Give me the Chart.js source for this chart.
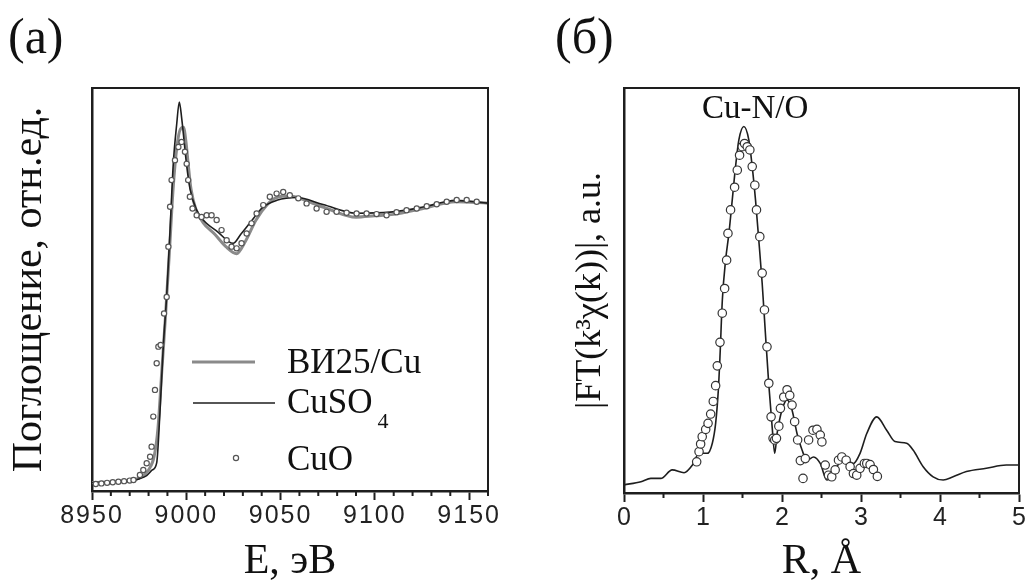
<!DOCTYPE html>
<html>
<head>
<meta charset="utf-8">
<script src="https://cdn.jsdelivr.net/npm/chart.js@4.4.0/dist/chart.umd.min.js"></script>
<style>
  html, body { margin: 0; padding: 0; background: #fff; }
  body { width: 1027px; height: 580px; position: relative; overflow: hidden; }
  .panel { position: absolute; top: 0; height: 580px; }
  #wrapA { left: 0; width: 510px; }
  #wrapB { left: 530px; width: 497px; }
  .tag { position: absolute; font-family: "Liberation Serif", "Times New Roman", serif; font-size: 50px; line-height: 1; color: #111; }
</style>
</head>
<body>
<div class="panel" id="wrapA"><canvas id="chartA"></canvas></div>
<div class="panel" id="wrapB"><canvas id="chartB"></canvas></div>
<div class="tag" style="left:8px; top:11px">(а)</div>
<div class="tag" style="left:555px; top:11px">(б)</div>
<script>
// (а) XANES, E in eV, normalized absorption
const vi25E = [8950, 8970, 8976, 8980, 8983, 8985, 8987, 8989, 8991, 8993,
  8995, 8997, 8998.5, 8999.8, 9001, 9002.5, 9005, 9009, 9015, 9021,
  9026.7, 9031, 9037, 9043, 9048, 9055, 9065, 9075, 9090, 9100,
  9110, 9125, 9143, 9160];
const vi25Mu = [0.005, 0.012, 0.025, 0.05, 0.1, 0.2, 0.4, 0.6, 0.82, 1.05,
  1.2, 1.265, 1.27, 1.22, 1.14, 1.05, 0.98, 0.93, 0.89, 0.845,
  0.82, 0.86, 0.94, 0.995, 1.02, 1.025, 1.005, 0.98, 0.95, 0.955,
  0.96, 0.98, 1.005, 1.0];

const cuso4E = [8950, 8960, 8970, 8975, 8979, 8982, 8984.3, 8986, 8987.8, 8989.6,
  8991.4, 8993.1, 8994.9, 8996.3, 8997.6, 8998.4, 9000.1, 9002, 9005.5, 9009,
  9016.8, 9024.8, 9029, 9033.8, 9040.7, 9048, 9058.5, 9072.5, 9090, 9108,
  9125.5, 9143, 9160];
const cuso4Mu = [0.005, 0.006, 0.01, 0.018, 0.03, 0.05, 0.075, 0.25, 0.49, 0.67,
  0.905, 1.14, 1.28, 1.36, 1.3, 1.25, 1.14, 1.05, 0.975, 0.94,
  0.897, 0.857, 0.89, 0.93, 0.986, 1.01, 1.02, 0.995, 0.964, 0.968,
  0.986, 1.01, 1.0];

const cuoE = [8952, 8955, 8958, 8961, 8964, 8967, 8970, 8972, 8975.4, 8977.2,
  8979, 8980.8, 8981.6, 8982.5, 8983.4, 8984.3, 8985.2, 8986.4, 8988.2, 8989.6,
  8990.5, 8991.4, 8992.2, 8994, 8995.8, 8997.5, 8999.3, 9000.2, 9001, 9001.9,
  9003.3, 9005.5, 9008.1, 9010.8, 9013.4, 9016.1, 9018.7, 9021.4, 9024, 9026.7,
  9029.3, 9032, 9034.6, 9037.3, 9040.8, 9044.3, 9047.9, 9051.4, 9054.9, 9059.4,
  9063.8, 9069.1, 9074.4, 9079.7, 9085, 9090.3, 9095.6, 9100.9, 9106.2, 9111.5,
  9116.8, 9122.2, 9127.5, 9132.8, 9138.1, 9143.4, 9148.7, 9154];
const cuoMu = [0.0, 0.002, 0.004, 0.006, 0.008, 0.01, 0.012, 0.014, 0.032, 0.05,
  0.074, 0.097, 0.133, 0.24, 0.335, 0.43, 0.489, 0.495, 0.607, 0.666,
  0.845, 0.987, 1.082, 1.153, 1.2, 1.218, 1.183, 1.14, 1.082, 1.023,
  0.981, 0.957, 0.951, 0.957, 0.957, 0.94, 0.904, 0.868, 0.845, 0.839,
  0.857, 0.892, 0.928, 0.963, 0.993, 1.023, 1.034, 1.04, 1.028, 1.017,
  0.999, 0.981, 0.969, 0.969, 0.966, 0.963, 0.963, 0.961, 0.957, 0.968,
  0.975, 0.981, 0.989, 0.996, 1.005, 1.011, 1.011, 1.005];

// (б) Fourier transform, R in Å
const ftR = [0, 0.214, 0.34, 0.466, 0.61, 0.76, 0.866, 0.95, 1.055, 1.118,
  1.16, 1.194, 1.215, 1.245, 1.286, 1.328, 1.37, 1.412, 1.454, 1.517,
  1.58, 1.623, 1.665, 1.706, 1.749, 1.79, 1.832, 1.875, 1.908, 1.938,
  2.0, 2.064, 2.127, 2.19, 2.254, 2.317, 2.4, 2.484, 2.568, 2.652,
  2.736, 2.82, 2.904, 2.988, 3.073, 3.199, 3.325, 3.43, 3.577, 3.66,
  3.787, 3.913, 4.04, 4.166, 4.334, 4.586, 4.839, 5.0];
const ftMag = [0.02, 0.028, 0.036, 0.036, 0.057, 0.05, 0.069, 0.098, 0.098, 0.123,
  0.172, 0.254, 0.337, 0.477, 0.575, 0.641, 0.723, 0.806, 0.872, 0.905,
  0.872, 0.806, 0.723, 0.625, 0.518, 0.394, 0.27, 0.164, 0.098, 0.147,
  0.205, 0.23, 0.205, 0.147, 0.106, 0.081, 0.089, 0.073, 0.032, 0.048,
  0.077, 0.081, 0.073, 0.098, 0.147, 0.188, 0.155, 0.127, 0.123, 0.106,
  0.065, 0.04, 0.032, 0.04, 0.053, 0.061, 0.069, 0.069];

const fitR = [0.92, 0.95, 0.97, 0.99, 1.034, 1.064, 1.097, 1.13, 1.16, 1.181,
  1.215, 1.244, 1.274, 1.299, 1.316, 1.349, 1.4, 1.434, 1.463, 1.497,
  1.526, 1.56, 1.593, 1.623, 1.656, 1.677, 1.719, 1.749, 1.778, 1.81,
  1.833, 1.862, 1.887, 1.908, 1.93, 1.96, 1.98, 2.022, 2.064, 2.098,
  2.127, 2.16, 2.198, 2.232, 2.266, 2.295, 2.337, 2.392, 2.442, 2.484,
  2.505, 2.547, 2.589, 2.63, 2.673, 2.715, 2.757, 2.812, 2.862, 2.904,
  2.946, 2.988, 3.043, 3.073, 3.115, 3.157, 3.207];
const fitMag = [0.077, 0.102, 0.121, 0.139, 0.157, 0.172, 0.195, 0.226, 0.265, 0.314,
  0.372, 0.444, 0.505, 0.575, 0.641, 0.699, 0.755, 0.797, 0.834, 0.855,
  0.863, 0.855, 0.847, 0.806, 0.76, 0.699, 0.633, 0.543, 0.452, 0.361,
  0.271, 0.188, 0.135, 0.131, 0.135, 0.165, 0.209, 0.237, 0.255, 0.241,
  0.217, 0.176, 0.131, 0.08, 0.036, 0.085, 0.131, 0.155, 0.157, 0.143,
  0.126, 0.069, 0.044, 0.04, 0.057, 0.081, 0.089, 0.081, 0.065, 0.048,
  0.044, 0.061, 0.073, 0.073, 0.07, 0.058, 0.041];

const legendLabels = ['ВИ25/Cu', 'CuSO', 'CuO'];
const peakLabel = 'Cu-N/O';

const pts = (xs, ys) => xs.map((x, i) => ({ x: x, y: ys[i] }));

const SERIF = '"Liberation Serif", "Times New Roman", serif';
const SANS = '"Liberation Sans", Arial, sans-serif';
const INK = '#1e1e1e';

// top/right frame lines plus the short minor ticks on the x axis
const framePlugin = {
  id: 'frame',
  afterDraw(chart, args, opts) {
    const ctx = chart.ctx, a = chart.chartArea, x = chart.scales.x;
    ctx.save();
    ctx.strokeStyle = INK;
    ctx.lineWidth = 2;
    ctx.beginPath();
    ctx.moveTo(a.left, a.top);
    ctx.lineTo(a.right, a.top);
    ctx.lineTo(a.right, a.bottom);
    ctx.stroke();
    ctx.beginPath();
    for (let v = x.min; v <= x.max + 1e-9; v += opts.minor) {
      const r = v / opts.major;
      if (Math.abs(r - Math.round(r)) < 1e-6) continue;
      const px = x.getPixelForValue(v);
      ctx.moveTo(px, a.bottom);
      ctx.lineTo(px, a.bottom + 5);
    }
    ctx.stroke();
    ctx.restore();
  }
};

// wide digits on the tick labels (labels use z:1 so they are drawn after datasets)
const spacingPlugin = {
  id: 'spacing',
  afterDatasetsDraw(chart, args, opts) { chart.ctx.letterSpacing = opts.value || '0px'; },
  afterDraw(chart) { chart.ctx.letterSpacing = '0px'; }
};

const legendPlugin = {
  id: 'legendA',
  afterDraw(chart) {
    const ctx = chart.ctx, a = chart.chartArea;
    const lx = a.left + 195;
    ctx.save();
    ctx.letterSpacing = '0px';
    ctx.fillStyle = '#111';
    ctx.font = '35px ' + SERIF;
    ctx.textBaseline = 'alphabetic';
    // ВИ25/Cu
    ctx.strokeStyle = '#8a8a8a';
    ctx.lineWidth = 3;
    ctx.beginPath(); ctx.moveTo(a.left + 100, a.top + 274); ctx.lineTo(a.left + 163, a.top + 274); ctx.stroke();
    ctx.fillText(legendLabels[0], lx, a.top + 285);
    // CuSO4
    ctx.strokeStyle = INK;
    ctx.lineWidth = 1.6;
    ctx.beginPath(); ctx.moveTo(a.left + 101, a.top + 315); ctx.lineTo(a.left + 183, a.top + 315); ctx.stroke();
    ctx.fillText(legendLabels[1], lx, a.top + 325);
    const w = ctx.measureText(legendLabels[1]).width;
    ctx.font = '22px ' + SERIF;
    ctx.fillText('4', lx + w + 5, a.top + 340);
    // CuO
    ctx.font = '35px ' + SERIF;
    ctx.fillText(legendLabels[2], lx, a.top + 382);
    ctx.fillStyle = '#fff';
    ctx.strokeStyle = '#555';
    ctx.lineWidth = 1.2;
    ctx.beginPath(); ctx.arc(a.left + 144, a.top + 370, 2.6, 0, Math.PI * 2); ctx.fill(); ctx.stroke();
    ctx.restore();
  }
};

const peakPlugin = {
  id: 'peakLabel',
  afterDraw(chart) {
    const ctx = chart.ctx, x = chart.scales.x, a = chart.chartArea;
    ctx.save();
    ctx.letterSpacing = '0px';
    ctx.fillStyle = '#111';
    ctx.font = '33px ' + SERIF;
    ctx.textAlign = 'center';
    ctx.textBaseline = 'alphabetic';
    ctx.fillText(peakLabel, x.getPixelForValue(1.66), a.top + 30);
    ctx.restore();
  }
};

function xAxis(min, max, step, title, h) {
  return {
    type: 'linear', min: min, max: max,
    border: { display: true, width: 2.5, color: INK },
    grid: { display: true, drawOnChartArea: false, drawTicks: true, tickLength: 9, tickWidth: 2, tickColor: INK },
    ticks: {
      stepSize: step, includeBounds: false, autoSkip: false, maxRotation: 0, minRotation: 0,
      padding: 1, color: '#222', z: 1,
      font: { family: SANS, size: 25 },
      callback: v => String(v)
    },
    title: { display: true, text: title, color: '#111', font: { family: SERIF, size: 42, lineHeight: 1 }, padding: { top: 0, bottom: -3 } },
    afterFit: s => { s.height = h; }
  };
}

function yAxis(min, max, title, size, pad, w) {
  return {
    type: 'linear', min: min, max: max,
    border: { display: true, width: 2.5, color: INK },
    grid: { display: false },
    ticks: { display: false },
    title: { display: true, text: title, color: '#111', font: { family: SERIF, size: size, lineHeight: 1.2 }, padding: { top: pad, bottom: 0 } },
    afterFit: s => { s.width = w; }
  };
}

const common = {
  responsive: true,
  maintainAspectRatio: false,
  animation: false,
  events: [],
  plugins: { legend: { display: false }, tooltip: { enabled: false } }
};

new Chart(document.getElementById('chartA'), {
  type: 'scatter',
  data: {
    datasets: [
      { label: 'ВИ25/Cu', data: pts(vi25E, vi25Mu), showLine: true, borderColor: '#8a8a8a', borderWidth: 3,
        pointRadius: 0, cubicInterpolationMode: 'monotone', order: 2 },
      { label: 'CuSO4', data: pts(cuso4E, cuso4Mu), showLine: true, borderColor: INK, borderWidth: 1.6,
        pointRadius: 0, cubicInterpolationMode: 'monotone', order: 1 },
      { label: 'CuO', data: pts(cuoE, cuoMu), showLine: false, pointRadius: 2.6, pointBorderWidth: 1.2,
        pointBorderColor: '#555', pointBackgroundColor: '#fff', order: 0 }
    ]
  },
  options: Object.assign({}, common, {
    layout: { padding: { top: 88, right: 22, left: 0, bottom: 0 } },
    scales: {
      x: xAxis(8950, 9160, 50, 'E, эВ', 89),
      y: yAxis(-0.025, 1.41, 'Поглощение, отн.ед.', 42, 5, 92)
    },
    plugins: Object.assign({}, common.plugins, { frame: { minor: 10, major: 50 }, spacing: { value: '2px' } })
  }),
  plugins: [framePlugin, spacingPlugin, legendPlugin]
});

new Chart(document.getElementById('chartB'), {
  type: 'scatter',
  data: {
    datasets: [
      { label: 'FT', data: pts(ftR, ftMag), showLine: true, borderColor: INK, borderWidth: 1.6,
        pointRadius: 0, cubicInterpolationMode: 'monotone', order: 1 },
      { label: 'fit', data: pts(fitR, fitMag), showLine: false, pointRadius: 4.2, pointBorderWidth: 1.2,
        pointBorderColor: '#333', pointBackgroundColor: '#fff', order: 0 }
    ]
  },
  options: Object.assign({}, common, {
    layout: { padding: { top: 88, right: 8, left: 0, bottom: 0 } },
    scales: {
      x: xAxis(0, 5, 1, 'R, Å', 87),
      y: yAxis(0, 1, '|FT(k³χ(k))|, a.u.', 36, 39, 94)
    },
    plugins: Object.assign({}, common.plugins, { frame: { minor: 0.5, major: 1 } })
  }),
  plugins: [framePlugin, peakPlugin]
});
</script>
</body>
</html>
